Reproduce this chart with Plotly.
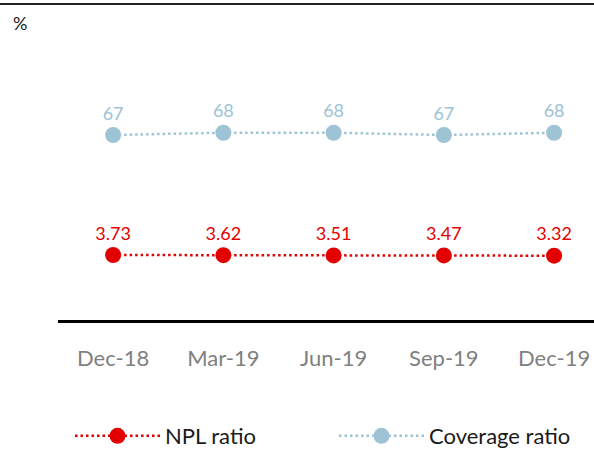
import plotly.graph_objects as go

categories = ["Dec-18", "Mar-19", "Jun-19", "Sep-19", "Dec-19"]
npl_ratio = [3.73, 3.62, 3.51, 3.47, 3.32]
coverage_ratio = [67, 68, 68, 67, 68]
npl_labels = ["3.73", "3.62", "3.51", "3.47", "3.32"]
coverage_labels = ["67", "68", "68", "67", "68"]

RED = "#E30000"
BLUE = "#9DC3D5"
FONT = "Lato"

W, H = 594, 450
ML, MR, MT, MB = 58, 0, 40, 130
PW = W - ML - MR
PH = H - MT - MB

def px_x(x):
    return (x - ML) / PW

def px_y(y):
    return (H - MB - y) / PH

fig = go.Figure()
fig.add_trace(go.Scatter(
    x=categories, y=npl_ratio, name="NPL ratio", mode="lines+markers+text",
    text=npl_labels, textposition="top center",
    textfont=dict(color=RED, size=18, family=FONT),
    line=dict(color=RED, width=2.5, dash="2.5px,3px"),
    marker=dict(color=RED, size=16), yaxis="y2", cliponaxis=False,
))
fig.add_trace(go.Scatter(
    x=categories, y=coverage_ratio, name="Coverage ratio", mode="lines+markers+text",
    text=coverage_labels, textposition="top center",
    textfont=dict(color=BLUE, size=18, family=FONT),
    line=dict(color=BLUE, width=2.5, dash="2.5px,3px"),
    marker=dict(color=BLUE, size=16), yaxis="y", cliponaxis=False,
))

fig.update_layout(
    width=W, height=H,
    margin=dict(l=ML, r=MR, t=MT, b=MB),
    paper_bgcolor="white", plot_bgcolor="white",
    font=dict(family=FONT, color="#1a1a1a"),
    xaxis=dict(
        type="category", range=[-0.5, 4.362], showgrid=False, zeroline=False,
        showline=True, linecolor="black", linewidth=2.5,
        ticks="", ticklabelstandoff=17,
        tickfont=dict(size=22, color="#808080", family=FONT),
    ),
    yaxis=dict(range=[-13.4, 108.3], visible=False),
    yaxis2=dict(range=[-34.5, 130.2], visible=False, overlaying="y"),
    showlegend=True,
    legend=dict(
        orientation="h", xref="container", yref="container",
        x=70 / W, y=1 - 436 / H, xanchor="left", yanchor="middle",
        font=dict(size=22, family=FONT, color="#1a1a1a"),
        itemwidth=85, entrywidth=164, entrywidthmode="pixels",
        traceorder="normal",
    ),
    shapes=[dict(
        type="line", xref="paper", yref="paper",
        x0=px_x(0), x1=px_x(W), y0=px_y(4), y1=px_y(4),
        line=dict(color="#222222", width=2),
    )],
    annotations=[dict(
        text="%", xref="paper", yref="paper", x=px_x(11), y=px_y(23),
        xanchor="left", yanchor="middle", showarrow=False,
        font=dict(size=18, family=FONT, color="#1a1a1a"),
    )],
)

fig.write_html(
    "out.html",
    config={"displayModeBar": False},
    post_script="document.body.style.margin='0';document.body.style.overflow='hidden';",
)
